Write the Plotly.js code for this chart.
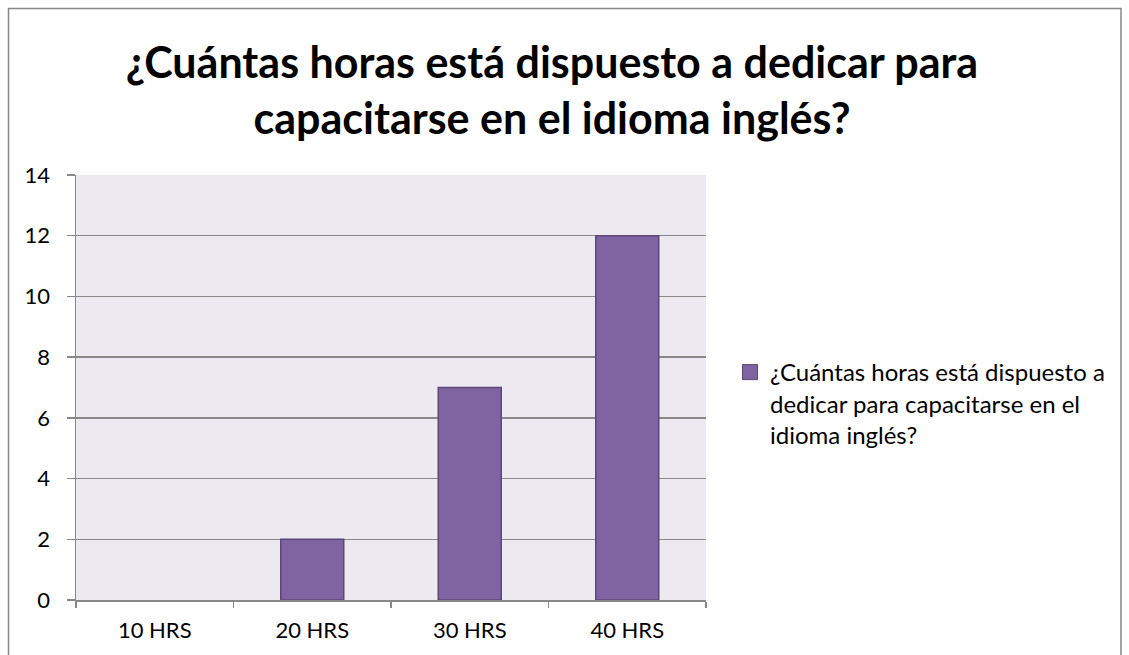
<!DOCTYPE html>
<html>
<head>
<meta charset="utf-8">
<script src="https://cdn.plot.ly/plotly-3.0.1.min.js"></script>
<style>html,body{margin:0;padding:0;background:#fff;}#chart{width:1129px;height:655px;}</style>
</head>
<body>
<div id="chart"></div>
<script>
const categories = ["10 HRS", "20 HRS", "30 HRS", "40 HRS"];
const values = [0, 2, 7, 12];
const seriesName = "¿Cuántas horas está dispuesto a<br>dedicar para capacitarse en el<br>idioma inglés?";
const titleText = "¿Cuántas horas está dispuesto a dedicar para<br>capacitarse en el idioma inglés?";
const yTicks = [0, 2, 4, 6, 8, 10, 12, 14];

const font = "Lato, 'Open Sans', sans-serif";
const L = 76, R = 706, T = 175, B = 600, W = 1129, H = 655;
const fx = px => (px - L) / (R - L);
const fy = py => (B - py) / (B - T);
const barColor = "#8064A2", barEdge = "#5C4777";

Plotly.newPlot("chart", [{
  type: "bar",
  x: categories,
  y: values,
  name: seriesName,
  marker: {color: barColor, line: {color: barEdge, width: values.map(v => v > 0 ? 1.5 : 0)}},
  showlegend: false
}, {
  type: "scatter",
  mode: "markers",
  x: [null], y: [null],
  name: seriesName,
  marker: {symbol: "square", size: 15, color: barColor, line: {color: barEdge, width: 1}},
  showlegend: true
}], {
  width: W, height: H,
  margin: {l: L, r: W - R, t: T, b: H - B, pad: 0},
  paper_bgcolor: "#ffffff",
  plot_bgcolor: "#ECEAF0",
  bargap: 0.6,
  font: {family: font, color: "#000", size: 22},
  title: {text: "<b>" + titleText + "</b>", font: {family: font, size: 43, color: "#000"}, x: fx(552), xref: "paper", xanchor: "center", y: 1 - 78 / H, yanchor: "middle"},
  xaxis: {
    type: "category", categoryorder: "array", categoryarray: categories,
    showgrid: false, showline: true, linecolor: "#888", linewidth: 1.5,
    ticks: "outside", tickson: "boundaries", ticklen: 6, tickcolor: "#888", tickwidth: 1.5,
    tickfont: {size: 22, family: font}, ticklabelstandoff: 10, fixedrange: true
  },
  yaxis: {
    range: [0, 14], tickvals: yTicks, showgrid: true, gridcolor: "#888", gridwidth: 1.5,
    showline: true, linecolor: "#888", linewidth: 1.5, zeroline: false,
    ticks: "outside", ticklen: 8, tickcolor: "#888", tickwidth: 1.5,
    tickfont: {size: 22, family: font}, ticklabelstandoff: 12
  },
  legend: {x: fx(730), xanchor: "left", y: fy(350), yanchor: "top", valign: "top", font: {size: 24, family: font}, bgcolor: "rgba(0,0,0,0)", itemwidth: 30},
  shapes: [{
    type: "rect", xref: "paper", yref: "paper",
    x0: fx(8.5), x1: fx(1121), y0: fy(680), y1: fy(8.5),
    line: {color: "#888", width: 1.5}, fillcolor: "rgba(0,0,0,0)", layer: "below"
  }]
}, {staticPlot: true});
</script>
</body>
</html>
